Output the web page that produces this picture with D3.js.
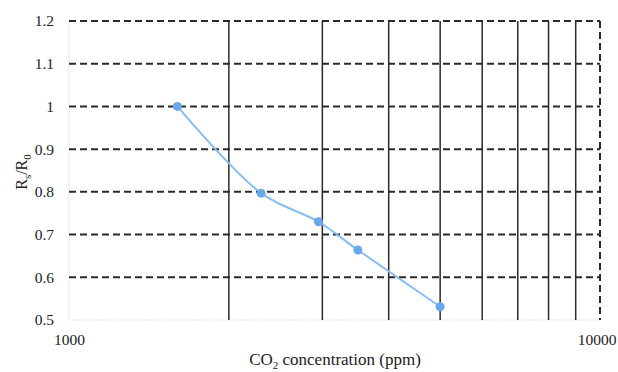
<!DOCTYPE html>
<html>
<head>
<meta charset="utf-8">
<script src="https://cdn.jsdelivr.net/npm/d3@7"></script>
<style>
  html, body { margin: 0; padding: 0; background: #fff; }
  svg text { font-family: "Liberation Serif", "DejaVu Serif", serif !important; fill: #222; }
</style>
</head>
<body>
<svg id="chart" width="618" height="372"></svg>
<script>
// CO2 concentration (ppm) and sensor response Rs/R0
const concentration = [1600, 2300, 2950, 3500, 5000];
const response = [1.0, 0.797, 0.73, 0.664, 0.531];
const yTicks = [0.5, 0.6, 0.7, 0.8, 0.9, 1.0, 1.1, 1.2];
const yTickLabels = ["0.5", "0.6", "0.7", "0.8", "0.9", "1", "1.1", "1.2"];
const xMajor = [1000, 10000];
const xMinor = [2000, 3000, 4000, 5000, 6000, 7000, 8000, 9000];

const svg = d3.select("#chart");
const margin = { left: 69, right: 18, top: 21, bottom: 52 };
const W = 618, H = 372;

const x = d3.scaleLog().domain([1000, 10000]).range([margin.left, W - margin.right]);
const y = d3.scaleLinear().domain([0.5, 1.2]).range([H - margin.bottom, margin.top]);

// faint axis lines at the left and bottom edges
svg.append("line")
  .attr("x1", x(1000)).attr("x2", x(1000))
  .attr("y1", y(1.2)).attr("y2", y(0.5))
  .attr("stroke", "#e6e9ee").attr("stroke-width", 1);
svg.append("line")
  .attr("x1", x(1000)).attr("x2", x(10000))
  .attr("y1", y(0.5)).attr("y2", y(0.5))
  .attr("stroke", "#dbe6f2").attr("stroke-width", 1.2)
  .attr("stroke-dasharray", "2,1");

// solid minor vertical gridlines
svg.append("g").selectAll("line").data(xMinor).join("line")
  .attr("x1", d => x(d)).attr("x2", d => x(d))
  .attr("y1", y(1.2)).attr("y2", y(0.5))
  .attr("stroke", "#2a2a2a").attr("stroke-width", 1.5);

// dashed vertical line at the upper decade
svg.append("line")
  .attr("x1", x(10000)).attr("x2", x(10000))
  .attr("y1", y(1.2)).attr("y2", y(0.5))
  .attr("stroke", "#2a2a2a").attr("stroke-width", 2)
  .attr("stroke-dasharray", "7,4");

// dashed horizontal gridlines
svg.append("g").selectAll("line").data(yTicks.filter(v => v > 0.5)).join("line")
  .attr("x1", x(1000)).attr("x2", x(10000))
  .attr("y1", d => y(d)).attr("y2", d => y(d))
  .attr("stroke", "#2a2a2a").attr("stroke-width", 2)
  .attr("stroke-dasharray", "7,4");

// y-axis tick labels
const yAxis = d3.axisLeft(y).tickValues(yTicks)
  .tickFormat((d, i) => yTickLabels[i]).tickSize(0).tickPadding(15);
svg.append("g").attr("transform", `translate(${margin.left},0)`).call(yAxis)
  .attr("font-family", null).attr("font-size", null)
  .call(g => g.select(".domain").remove())
  .call(g => g.selectAll("text").style("font-size", "15.5px").attr("fill", "#222"));

// x-axis tick labels at the decades; the last one is kept inside the frame
const xAxis = d3.axisBottom(x).tickValues(xMajor).tickFormat(d3.format("d")).tickSize(0).tickPadding(14);
svg.append("g").attr("transform", `translate(0,${y(0.5)})`).call(xAxis)
  .attr("font-family", null).attr("font-size", null)
  .call(g => g.select(".domain").remove())
  .call(g => g.selectAll("text").style("font-size", "15.5px").attr("fill", "#222"))
  .call(g => g.selectAll("text").filter(d => d === 10000).attr("text-anchor", "end").attr("x", 16));

// smoothed response curve
const line = d3.line()
  .x((d, i) => x(concentration[i]))
  .y(d => y(d))
  .curve(d3.curveCatmullRom.alpha(0.5));
svg.append("path").datum(response)
  .attr("d", line)
  .attr("fill", "none")
  .attr("stroke", "#86bdf0")
  .attr("stroke-width", 2);

svg.append("g").selectAll("circle").data(response).join("circle")
  .attr("cx", (d, i) => x(concentration[i]))
  .attr("cy", d => y(d))
  .attr("r", 4.5)
  .attr("fill", "#6aa8ec");

// axis titles
const xt = svg.append("text")
  .attr("x", 335).attr("y", 365)
  .attr("text-anchor", "middle")
  .style("font-size", "17px");
xt.append("tspan").text("CO");
xt.append("tspan").style("font-size", "11px").attr("dy", 4).text("2");
xt.append("tspan").attr("dy", -4).text(" concentration (ppm)");

const yt = svg.append("text")
  .attr("transform", `translate(27,172) rotate(-90)`)
  .attr("text-anchor", "middle")
  .style("font-size", "16px");
yt.append("tspan").text("R");
yt.append("tspan").style("font-size", "11px").attr("dy", 4).text("s");
yt.append("tspan").attr("dy", -4).text("/R");
yt.append("tspan").style("font-size", "11px").attr("dy", 4).text("0");
</script>
</body>
</html>
